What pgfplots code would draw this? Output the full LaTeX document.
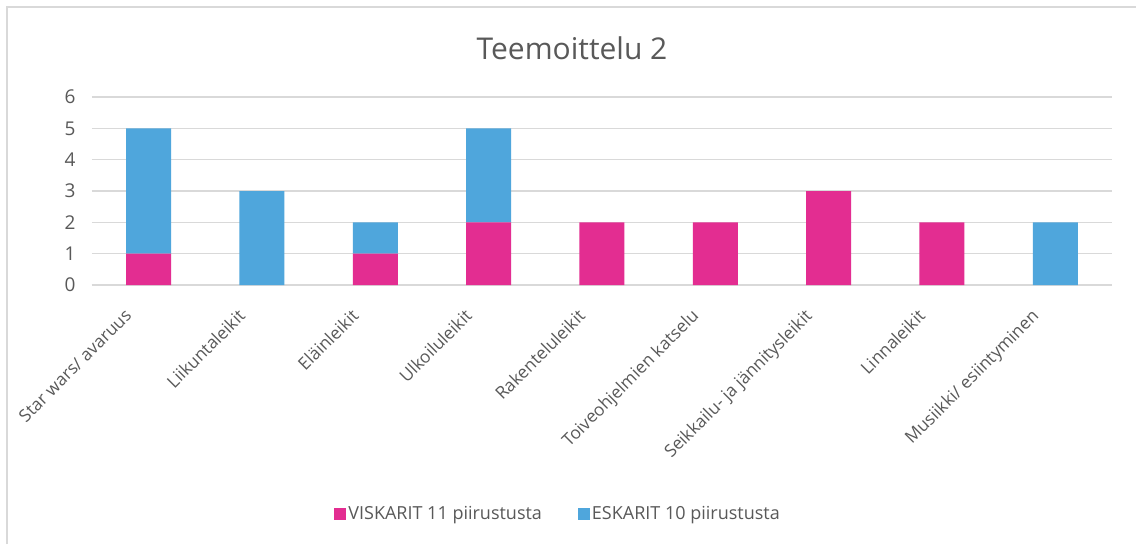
\documentclass[border=0pt]{standalone}
\usepackage{pgfplots}
\pgfplotsset{compat=1.18}
\usepackage{fontspec}
\setmainfont{Open Sans}
\definecolor{pinkc}{HTML}{E32D91}
\definecolor{bluec}{HTML}{4FA6DC}
\definecolor{gridc}{HTML}{D9D9D9}
\definecolor{txtc}{HTML}{595959}
\begin{document}
\begin{tikzpicture}[x=1pt,y=1pt]
\useasboundingbox (0,0) rectangle (1136,544);
\fill[white] (0,0) rectangle (1136,544);
\draw[gridc, line width=1.5pt] (7,0) -- (7,537) -- (1136,537);
\begin{axis}[
  at={(92pt,259pt)}, anchor=south west,
  scale only axis, width=1020pt, height=188pt,
  ybar stacked, bar width=45pt,
  xmin=-0.5, xmax=8.5, ymin=0, ymax=6,
  ytick={0,1,2,3,4,5,6},
  xtick={0,1,2,3,4,5,6,7,8},
  xticklabels={Star wars/ avaruus, Liikuntaleikit, Eläinleikit, Ulkoiluleikit, Rakenteluleikit, Toiveohjelmien katselu, Seikkailu- ja jännitysleikit, Linnaleikit, Musiikki/ esiintyminen},
  x tick label style={yshift=-18pt, xshift=-25pt, rotate=45, anchor=north east, font=\fontsize{17.3}{20}\selectfont, text=txtc},
  y tick label style={font=\fontsize{19}{22}\selectfont, text=txtc, xshift=-13pt},
  /pgf/number format/assume math mode=true,
  major tick length=0pt,
  ymajorgrids, grid style={gridc, line width=1.5pt},
  axis x line*=bottom, axis y line*=left,
  x axis line style={gridc, line width=1.5pt, -},
  y axis line style={draw=none},
  legend columns=2,
  legend style={draw=none, fill=none, at={(0.457,-1.218)}, anchor=center,
    font=\fontsize{18}{21}\selectfont, text=txtc,
    /tikz/every even column/.append style={column sep=34pt}},
  legend image code/.code={\fill[#1] (0pt,-6pt) rectangle (12pt,6pt);},
]
\addplot[fill=pinkc, draw=none] coordinates {(0,1) (1,0) (2,1) (3,2) (4,2) (5,2) (6,3) (7,2) (8,0)};
\addplot[fill=bluec, draw=none] coordinates {(0,4) (1,3) (2,1) (3,3) (4,0) (5,0) (6,0) (7,0) (8,2)};
\legend{VISKARIT 11 piirustusta, ESKARIT 10 piirustusta}
\end{axis}
\node[font=\fontsize{30}{36}\selectfont, text=txtc] at (572,496) {Teemoittelu 2};
\end{tikzpicture}
\end{document}
